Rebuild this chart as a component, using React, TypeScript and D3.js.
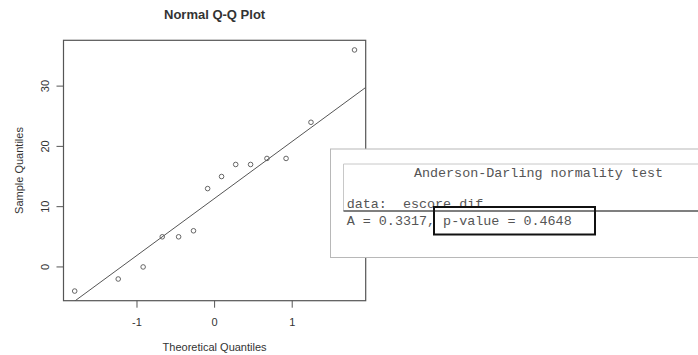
import React from "react";
import * as d3 from "d3";

// Sample of 14 score differences (sorted) and their normal scores
const sampleValues = [-4, -2, 0, 5, 5, 6, 13, 15, 17, 17, 18, 18, 24, 36];
const xTicks = [-1, 0, 1];
const yTicks = [0, 10, 20, 30];
const testTitle = "Anderson-Darling normality test";
const testData = "data:  escore.dif";
const testStat = "A = 0.3317, ";
const testP = "p-value = 0.4648";

const W = 698;
const H = 355;
const box = { left: 63.5, right: 365.7, top: 40.3, bottom: 300.7 };

function qnorm(p: number): number {
  // Acklam's rational approximation of the inverse normal CDF
  const a = [-39.69683028665376, 220.9460984245205, -275.9285104469687, 138.357751867269, -30.66479806614716, 2.506628277459239];
  const b = [-54.47609879822406, 161.5858368580409, -155.6989798598866, 66.80131188771972, -13.28068155288572];
  const c = [-0.007784894002430293, -0.3223964580411365, -2.400758277161838, -2.549732539343734, 4.374664141464968, 2.938163982698783];
  const d = [0.007784695709041462, 0.3224671290700398, 2.445134137142996, 3.754408661907416];
  const pl = 0.02425;
  if (p < pl) {
    const q = Math.sqrt(-2 * Math.log(p));
    return (((((c[0] * q + c[1]) * q + c[2]) * q + c[3]) * q + c[4]) * q + c[5]) / ((((d[0] * q + d[1]) * q + d[2]) * q + d[3]) * q + 1);
  }
  if (p > 1 - pl) return -qnorm(1 - p);
  const q = p - 0.5;
  const r = q * q;
  return ((((((a[0] * r + a[1]) * r + a[2]) * r + a[3]) * r + a[4]) * r + a[5]) * q) / (((((b[0] * r + b[1]) * r + b[2]) * r + b[3]) * r + b[4]) * r + 1);
}

// Plotting positions (i - 0.5) / n, as ppoints() uses for n > 10
const n = sampleValues.length;
const theo = sampleValues.map((_, i) => qnorm((i + 0.5) / n));

function padded([lo, hi]: [number, number]): [number, number] {
  const pad = (hi - lo) * 0.04;
  return [lo - pad, hi + pad];
}

export default function App() {
  const x = d3.scaleLinear().domain(padded(d3.extent(theo) as [number, number])).range([box.left, box.right]);
  const y = d3.scaleLinear().domain(padded(d3.extent(sampleValues) as [number, number])).range([box.bottom, box.top]);

  // Reference line through the first and third quartiles
  const q1 = d3.quantile(sampleValues, 0.25) as number;
  const q3 = d3.quantile(sampleValues, 0.75) as number;
  const z1 = qnorm(0.25);
  const z3 = qnorm(0.75);
  const slope = (q3 - q1) / (z3 - z1);
  const intercept = q1 - slope * z1;
  const [xd0, xd1] = x.domain();
  const line = d3.line<number>().x((v) => x(v)).y((v) => y(intercept + slope * v));

  const axisColor = "#555";
  const textColor = "#333";
  const sans = "'Liberation Sans', Arial, sans-serif";
  const mono = "'Liberation Mono', 'Courier New', monospace";
  const monoColor = "#555";

  return (
    <svg width={W} height={H} style={{ position: "absolute", left: 0, top: 0, background: "#fff" }}>
      <defs>
        <clipPath id="plotClip">
          <rect x={box.left} y={box.top} width={box.right - box.left} height={box.bottom - box.top} />
        </clipPath>
      </defs>
      <text x={(box.left + box.right) / 2} y={19} textAnchor="middle" fontFamily={sans} fontWeight="bold" fontSize={13} fill={textColor}>
        Normal Q-Q Plot
      </text>

      <path d={line([xd0, xd1]) ?? ""} stroke={axisColor} strokeWidth={1} fill="none" clipPath="url(#plotClip)" />
      {sampleValues.map((v, i) => (
        <circle key={i} cx={x(theo[i])} cy={y(v)} r={2.3} fill="none" stroke={axisColor} strokeWidth={0.9} />
      ))}

      <rect x={box.left} y={box.top} width={box.right - box.left} height={box.bottom - box.top} fill="none" stroke={axisColor} strokeWidth={1.2} />

      {xTicks.map((t) => (
        <g key={t}>
          <line x1={x(t)} x2={x(t)} y1={box.bottom} y2={box.bottom + 7} stroke={axisColor} />
          <text x={x(t)} y={326} textAnchor="middle" fontFamily={sans} fontSize={11} fill={textColor}>
            {t}
          </text>
        </g>
      ))}
      {yTicks.map((t) => (
        <g key={t}>
          <line x1={box.left - 7} x2={box.left} y1={y(t)} y2={y(t)} stroke={axisColor} />
          <text transform={`translate(49,${y(t)}) rotate(-90)`} textAnchor="middle" fontFamily={sans} fontSize={11} fill={textColor}>
            {t}
          </text>
        </g>
      ))}
      <text x={(box.left + box.right) / 2} y={351} textAnchor="middle" fontFamily={sans} fontSize={11} fill={textColor}>
        Theoretical Quantiles
      </text>
      <text transform={`translate(23,${(box.top + box.bottom) / 2}) rotate(-90)`} textAnchor="middle" fontFamily={sans} fontSize={11} fill={textColor}>
        Sample Quantiles
      </text>

      {/* Test output panel */}
      <rect x={330.5} y={149} width={W - 330 + 5} height={108.5} fill="#fff" stroke="#b8b8b8" strokeWidth={1} />
      <line x1={343.5} x2={W} y1={164} y2={164} stroke="#c8c8c8" strokeWidth={1} />
      <line x1={343.5} x2={343.5} y1={164} y2={211} stroke="#c8c8c8" strokeWidth={1} />
      <text x={538.5} y={177} textAnchor="middle" fontFamily={mono} fontSize={13.4} fill={monoColor}>
        {testTitle}
      </text>
      <text x={346.7} y={208} fontFamily={mono} fontSize={13.4} fill={monoColor} style={{ whiteSpace: "pre" }}>
        {testData}
      </text>
      <line x1={343.5} x2={W} y1={211} y2={211} stroke="#555" strokeWidth={1.5} />
      <text x={346.7} y={225} fontFamily={mono} fontSize={13.4} fill={monoColor} style={{ whiteSpace: "pre" }}>
        {testStat + testP}
      </text>
      <rect x={434} y={207} width={161} height={27.5} fill="none" stroke="#111" strokeWidth={2} />
    </svg>
  );
}
